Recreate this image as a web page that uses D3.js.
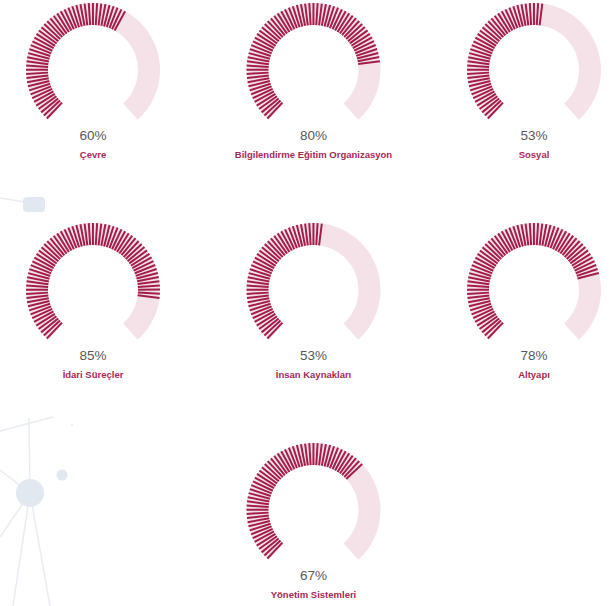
<!DOCTYPE html>
<html>
<head>
<meta charset="utf-8">
<script src="https://cdn.jsdelivr.net/npm/d3@7"></script>
<style>
  html, body { margin: 0; padding: 0; background: #fff; }
  svg { display: block; font-family: Arial, "Liberation Sans", sans-serif; }
</style>
</head>
<body>
<script>
// gauge data
const categories = [
  "Çevre",
  "Bilgilendirme Eğitim Organizasyon",
  "Sosyal",
  "İdari Süreçler",
  "İnsan Kaynakları",
  "Altyapı",
  "Yönetim Sistemleri"
];
const values = [60, 80, 53, 85, 53, 78, 67];
// grid slot of each gauge (column, row)
const gridCols = [0, 1, 2, 0, 1, 2, 1];
const gridRows = [0, 0, 0, 1, 1, 1, 2];

const width = 615, height = 606;
const outerR = 67, innerR = 45;
const tickStep = 1.3; // one bar per 1.3 %

const svg = d3.select("body").append("svg")
  .attr("width", width)
  .attr("height", height);

// faint decoration in the background (left side)
const deco = svg.append("g").attr("class", "deco");
const decoLine = "#e8ecf1", decoFill = "#e1e8ef";
[
  [[0, 198], [25, 202]],
  [[0, 431], [53, 417]],
  [[29, 418], [30, 493]],
  [[0, 470], [30, 493]],
  [[0, 537], [30, 493]],
  [[13, 606], [30, 493]],
  [[50, 606], [30, 493]]
].forEach(p => {
  deco.append("path")
    .attr("d", d3.line()(p))
    .attr("stroke", decoLine)
    .attr("stroke-width", 1.5)
    .attr("fill", "none");
});
deco.append("rect")
  .attr("x", 23).attr("y", 197).attr("width", 22).attr("height", 15)
  .attr("rx", 4).attr("fill", decoFill);
deco.append("circle").attr("cx", 30).attr("cy", 493).attr("r", 14).attr("fill", decoFill);
deco.append("circle").attr("cx", 62).attr("cy", 475).attr("r", 5.5).attr("fill", decoFill);
deco.append("circle").attr("cx", 72).attr("cy", 425).attr("r", 1).attr("fill", decoFill);

// scales
const x = d3.scaleLinear().domain([0, 2]).range([93, 534]);
const y = d3.scaleLinear().domain([0, 2]).range([70, 510]);
const angle = d3.scaleLinear().domain([0, 100]).range([-138, 138]);

const rad = a => a * Math.PI / 180;

const bgArc = d3.arc()
  .innerRadius(innerR)
  .outerRadius(outerR)
  .startAngle(rad(angle(0)))
  .endAngle(rad(angle(100)));

const data = categories.map((c, i) => ({
  name: c,
  value: values[i],
  cx: x(gridCols[i]),
  cy: y(gridRows[i])
}));

const gauges = svg.selectAll("g.gauge")
  .data(data)
  .join("g")
  .attr("class", "gauge")
  .attr("transform", d => `translate(${d.cx},${d.cy})`);

gauges.append("path")
  .attr("d", bgArc())
  .attr("fill", "#f4e2e8");

gauges.each(function(d) {
  const bars = d3.range(0, d.value, tickStep).map(v => rad(angle(v) + 1.6));
  d3.select(this).selectAll("line.bar")
    .data(bars)
    .join("line")
    .attr("class", "bar")
    .attr("x1", a => innerR * Math.sin(a))
    .attr("y1", a => -innerR * Math.cos(a))
    .attr("x2", a => outerR * Math.sin(a))
    .attr("y2", a => -outerR * Math.cos(a))
    .attr("stroke", "#a31d4b")
    .attr("stroke-width", 2);
});

gauges.append("text")
  .attr("y", 69.5)
  .attr("text-anchor", "middle")
  .attr("font-size", 13.5)
  .attr("fill", "#595959")
  .text(d => `${d.value}%`);

gauges.append("text")
  .attr("y", 87.5)
  .attr("text-anchor", "middle")
  .attr("font-size", 9.5)
  .attr("font-weight", "bold")
  .attr("fill", "#a52a55")
  .text(d => d.name);
</script>
</body>
</html>
